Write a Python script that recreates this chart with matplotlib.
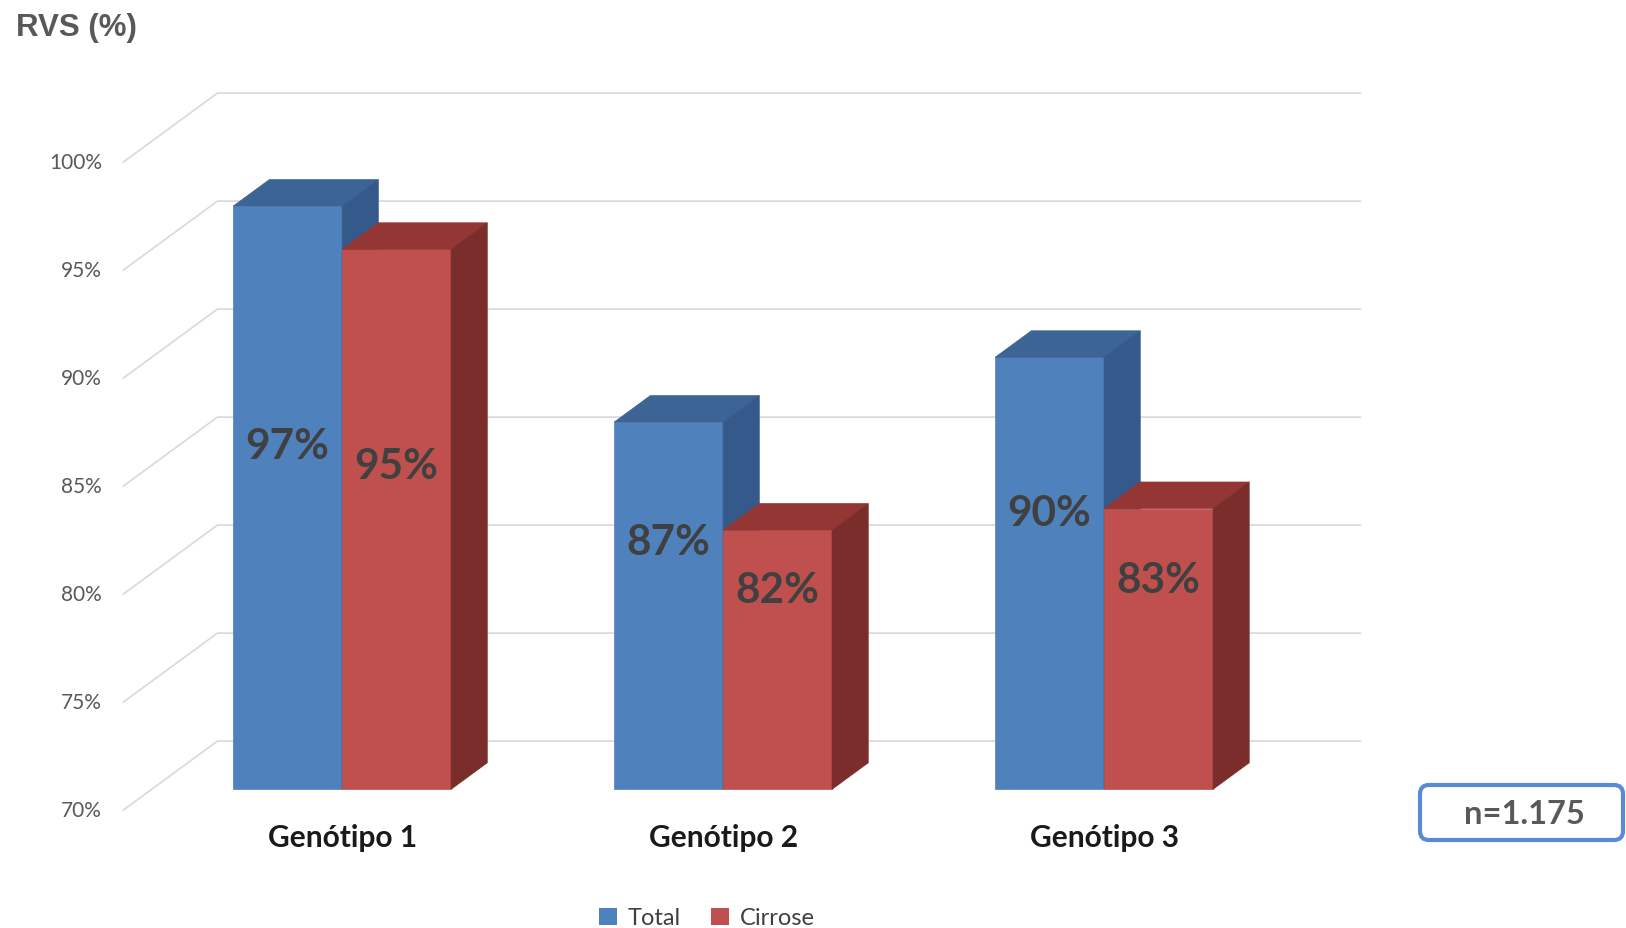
import matplotlib
matplotlib.use("Agg")
import matplotlib.pyplot as plt
import matplotlib.transforms as mtransforms
from matplotlib.patches import Polygon, Patch, FancyBboxPatch

plt.rcParams['font.family'] = ['Lato', 'DejaVu Sans']

# data
genotipos = ["Genótipo 1", "Genótipo 2", "Genótipo 3"]
total = [97, 87, 90]
cirrose = [95, 82, 83]
ticks = [70, 75, 80, 85, 90, 95, 100]
series_names = ["Total", "Cirrose"]

# colours: front, top, side
blue = ("#4f81bd", "#3c6494", "#35598a")
red = ("#c0504d", "#943634", "#7b2d2b")

# oblique projection: depth d in [0, 1] shifts right and up
DX = 0.2467
DY = 3.19
BASE = 70
BW = 0.286            # bar width in category units
D0, D1 = 0.3, 0.685   # bar front / back depth


def P(x, y, d):
    return (x + d * DX, y + d * DY)


def bar3d(ax, x0, x1, v, cols):
    front = [P(x0, BASE, D0), P(x1, BASE, D0), P(x1, v, D0), P(x0, v, D0)]
    top = [P(x0, v, D0), P(x1, v, D0), P(x1, v, D1), P(x0, v, D1)]
    side = [P(x1, BASE, D0), P(x1, BASE, D1), P(x1, v, D1), P(x1, v, D0)]
    for pts, c in zip((front, top, side), cols):
        ax.add_patch(Polygon(pts, closed=True, facecolor=c, edgecolor=c, lw=0.5, zorder=3))


fig = plt.figure(figsize=(16.26, 9.29), dpi=100)
ax = fig.add_axes([0, 0, 1, 1])
ax.set_xlim(-0.824, 3.444)
ax.set_ylim(64.537, 107.546)
ax.axis('off')

# walls: diagonal on the left side, horizontal on the back
for t in ticks:
    xa, ya = P(-0.5, t, 0)
    xb, yb = P(-0.5, t, 1)
    xc, yc = P(2.5, t, 1)
    ax.plot([xa, xb, xc], [ya, yb, yc], color="#d9d9d9", lw=1.2, zorder=1,
            solid_joinstyle='miter')
    ax.text(-0.556, t, f"{t}%", ha='right', va='center', fontsize=15,
            color="#595959")

for i, name in enumerate(genotipos):
    bar3d(ax, i - BW, i, total[i], blue)
    bar3d(ax, i, i + BW, cirrose[i], red)
    for xc, v in ((i - BW / 2, total[i]), (i + BW / 2, cirrose[i])):
        lx, ly = P(xc, 0.442 * v + 43.0, D0)
        ax.text(lx, ly, f"{v}%", ha='center', va='center', fontsize=30.5,
                fontweight='bold', color="#404040", zorder=5)
    cx, cy = P(i, 68.75, 0)
    ax.text(cx + DX * D0, cy, name, ha='center', va='center', fontsize=21.5,
            fontweight='bold', color="#1a1a1a")

# legend at bottom
handles = [Patch(facecolor=blue[0]), Patch(facecolor=red[0])]
fig.legend(handles, series_names, loc='center', bbox_to_anchor=(707 / 1626, 1 - 919 / 929),
           ncol=2, frameon=False, fontsize=17, labelcolor="#404040",
           handlelength=0.75, handleheight=0.75, handletextpad=0.45, columnspacing=1.3)

# title
fig.text(16 / 1626, 1 - 28 / 929, "RVS (%)", ha='left', va='center', fontsize=22.5,
         fontweight='bold', color="#595959", family='Liberation Sans')

# sample size box
box = FancyBboxPatch((1420, 929 - 841), 203, 55, boxstyle="round,pad=0,rounding_size=9",
                     transform=mtransforms.IdentityTransform(), facecolor='white',
                     edgecolor="#5b8bd6", lw=3)
fig.patches.append(box)
fig.text(1524 / 1626, 1 - 815 / 929, "n=1.175", ha='center', va='center', fontsize=23.5,
         fontweight='bold', color="#595959")

fig.savefig("out.png", dpi=100)
